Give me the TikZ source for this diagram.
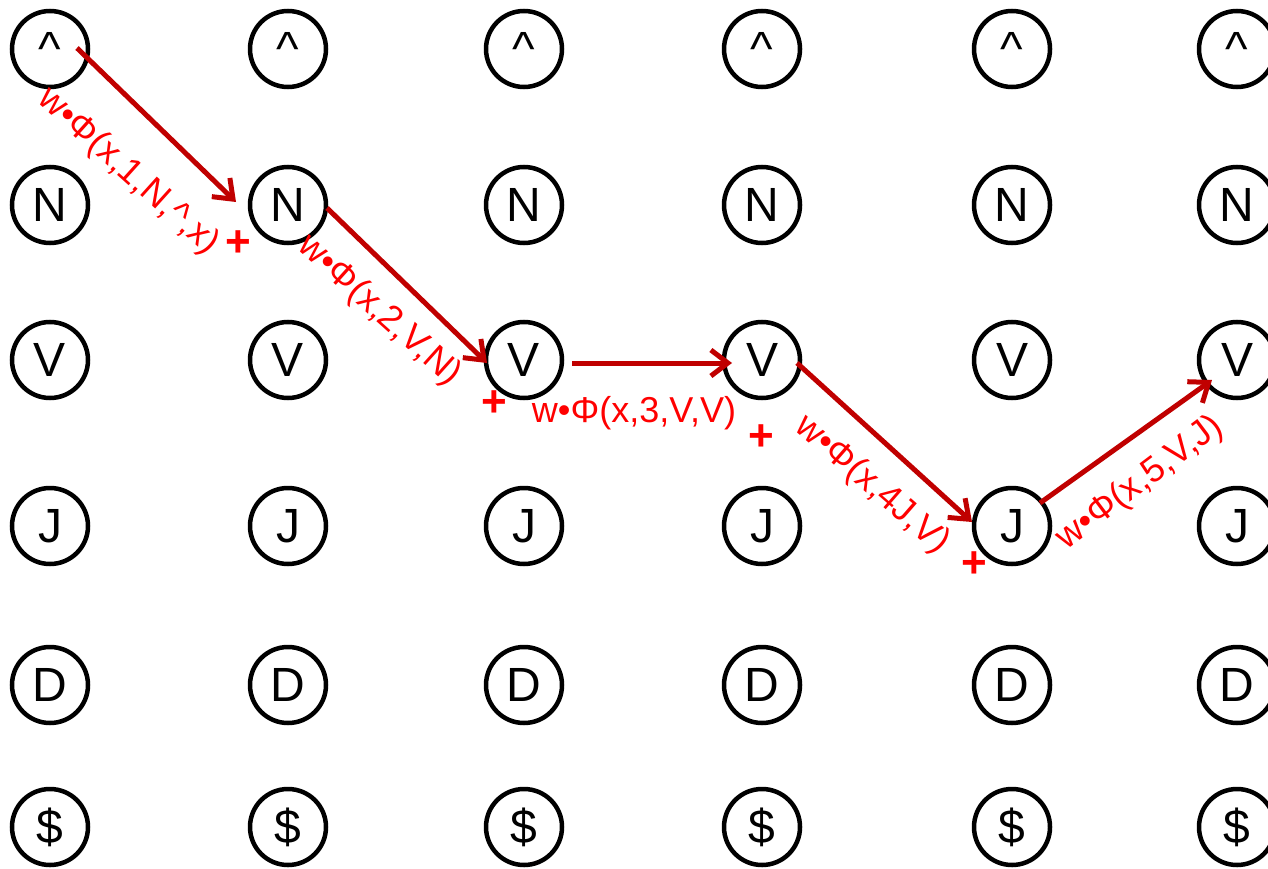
\documentclass[tikz,border=0pt]{standalone}
\usepackage{fontspec}
\setmainfont{Liberation Sans}
\usetikzlibrary{arrows.meta}
\definecolor{arrowred}{RGB}{192,0,0}
\definecolor{labred}{RGB}{255,0,0}
\begin{document}
\begin{tikzpicture}[x=1pt,y=-1pt,
  st/.style={circle,draw,line width=4.5pt,minimum size=76pt,inner sep=0pt,font=\fontsize{48}{50}\selectfont},
  arr/.style={draw=arrowred,line width=5pt,-{Straight Barb[length=17pt,width=26pt]}},
  lab/.style={text=labred,font=\fontsize{36}{38}\selectfont,inner sep=0pt},
  plus/.style={text=labred,font=\fontsize{44}{46}\selectfont\bfseries,inner sep=0pt}]
\useasboundingbox (0,0) rectangle (1268,869);
\foreach \c/\x in {1/50,2/288,3/524,4/762,5/1012,6/1237}{
  \foreach \r/\y/\t in {1/49/\textasciicircum,2/205/N,3/360/V,4/526/J,5/685/D,6/827/\$}{
    \node[st] (n\c\r) at (\x,\y) {\t};
  }
}
\draw[arr] ([shift={(27,-1)}]n11.center) -- ([shift={(-52,-3)}]n22.center);
\draw[arr] ([shift={(39,3)}]n22.center) -- ([shift={(-37,3)}]n33.center);
\draw[arr] ([shift={(48,3)}]n33.center) -- ([shift={(-30,3)}]n43.center);
\draw[arr] ([shift={(35,3)}]n43.center) -- ([shift={(-40,-4)}]n54.center);
\draw[arr] ([shift={(28,-23)}]n54.center) -- ([shift={(-25,20)}]n63.center);
\node[lab,rotate=-42] (l1) at (128,172) {w•Φ(x,1,N,\textasciicircum,x)};
\node[lab,rotate=-42] (l2) at (379,311) {w•Φ(x,2,V,N)};
\node[lab] (l3) at (634,413) {w•Φ(x,3,V,V)};
\node[lab,rotate=-41] (l4) at (872,485) {w•Φ(x,4J,V)};
\node[lab,rotate=37] (l5) at (1140,483) {w•Φ(x,5,V,J)};
\node[plus] (p1) at (238,244) {+};
\node[plus] (p2) at (494,404) {+};
\node[plus] (p3) at (761,438) {+};
\node[plus] (p4) at (974,565) {+};
\end{tikzpicture}
\end{document}
